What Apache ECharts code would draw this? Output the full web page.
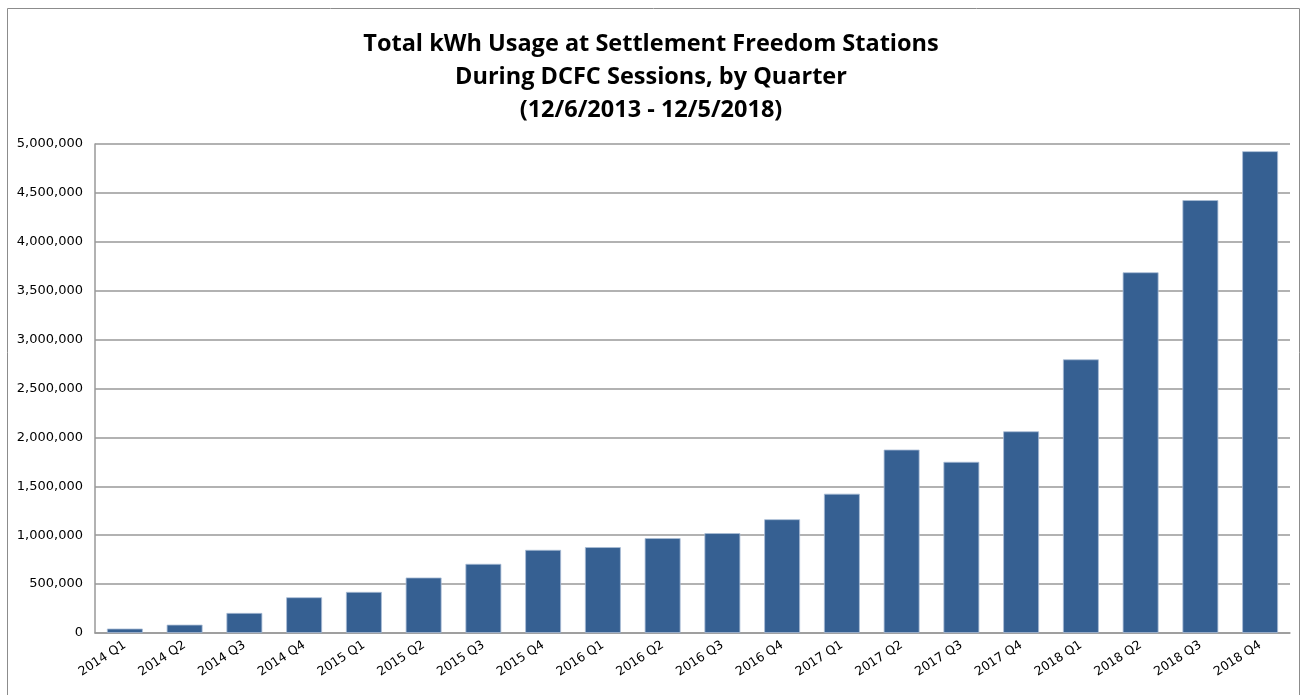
<!DOCTYPE html>
<html>
<head>
<meta charset="utf-8">
<script src="https://cdn.jsdelivr.net/npm/echarts@6/dist/echarts.min.js"></script>
<style>
html,body{margin:0;padding:0;background:#fff;}
#c{width:1302px;height:695px;}
</style>
</head>
<body>
<div id="c"></div>
<script>
const categories = ['2014 Q1','2014 Q2','2014 Q3','2014 Q4','2015 Q1','2015 Q2','2015 Q3','2015 Q4','2016 Q1','2016 Q2','2016 Q3','2016 Q4','2017 Q1','2017 Q2','2017 Q3','2017 Q4','2018 Q1','2018 Q2','2018 Q3','2018 Q4'];
const kwhValues = [45000, 85000, 205000, 365000, 420000, 567000, 707000, 850000, 878000, 970000, 1021000, 1163000, 1424000, 1875000, 1750000, 2062000, 2798000, 3688000, 4426000, 4926000];
const titleLines = ['Total kWh Usage at Settlement Freedom Stations', 'During DCFC Sessions, by Quarter', '(12/6/2013 - 12/5/2018)'];

const chart = echarts.init(document.getElementById('c'), null, {renderer:'canvas'});
chart.setOption({
  animation: false,
  backgroundColor: '#fff',
  graphic: [{
    type: 'rect', shape: {x: 7.5, y: 8.5, width: 1292, height: 700},
    style: {fill: 'none', stroke: '#8c8c8c', lineWidth: 1}, silent: true, z: -1
  }],
  title: {
    text: titleLines.join('\n'),
    left: 'center', top: 23,
    textStyle: {
      fontFamily: '"Open Sans", sans-serif',
      fontWeight: 'bold', fontSize: 23.5, lineHeight: 33, color: '#000'
    }
  },
  grid: {left: 95, right: 12, top: 144, bottom: 62, containLabel: false},
  xAxis: {
    type: 'category', data: categories,
    axisLine: {show: true, lineStyle: {color: '#999', width: 1.5}},
    axisTick: {show: false},
    axisLabel: {rotate: 33, margin: 11, interval: 0, fontFamily: '"DejaVu Sans", sans-serif', fontSize: 12.5, color: '#000'}
  },
  yAxis: {
    type: 'value', min: 0, max: 5000000, interval: 500000,
    axisLine: {show: true, lineStyle: {color: '#999', width: 1.5}},
    axisTick: {show: false},
    splitLine: {show: true, lineStyle: {color: '#999', width: 1.5}},
    axisLabel: {
      margin: 12, fontFamily: '"DejaVu Sans", sans-serif', fontSize: 13, color: '#000',
      formatter: v => v.toLocaleString('en-US')
    }
  },
  series: [{
    type: 'bar', data: kwhValues, barCategoryGap: '40%',
    itemStyle: {color: '#366092', borderColor: '#a9bcd6', borderWidth: 0.8}
  }]
});
</script>
</body>
</html>
